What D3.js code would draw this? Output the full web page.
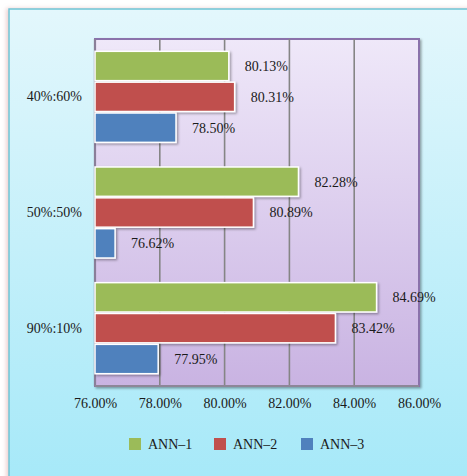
<!DOCTYPE html>
<html>
<head>
<meta charset="utf-8">
<script src="https://cdn.jsdelivr.net/npm/d3@7"></script>
<style>
  html, body { margin: 0; padding: 0; background: #ffffff; }
  svg { display: block; }
</style>
</head>
<body>
<script>
const categories = ["40%:60%", "50%:50%", "90%:10%"];
const seriesNames = ["ANN–1", "ANN–2", "ANN–3"];
const ann1 = [80.13, 82.28, 84.69];
const ann2 = [80.31, 80.89, 83.42];
const ann3 = [78.50, 76.62, 77.95];
const xTicks = [76, 78, 80, 82, 84, 86];
const colors = ["#9bbb59", "#c0504d", "#4f81bd"];

const FONT = "'Liberation Serif', 'Times New Roman', serif";
const W = 467, H = 476;
const svg = d3.select("body").append("svg").attr("width", W).attr("height", H);
const defs = svg.append("defs");

const bgGrad = defs.append("linearGradient").attr("id", "bg").attr("x1", 0).attr("y1", 0).attr("x2", 0).attr("y2", 1);
bgGrad.append("stop").attr("offset", "0%").attr("stop-color", "#e3f7fc");
bgGrad.append("stop").attr("offset", "100%").attr("stop-color", "#a3e8f8");

const plotGrad = defs.append("linearGradient").attr("id", "pg").attr("x1", 0).attr("y1", 0).attr("x2", 0).attr("y2", 1);
plotGrad.append("stop").attr("offset", "0%").attr("stop-color", "#efe8f9");
plotGrad.append("stop").attr("offset", "100%").attr("stop-color", "#c9b3e2");

const shadow = defs.append("filter").attr("id", "sh").attr("x", "-10%").attr("y", "-10%").attr("width", "130%").attr("height", "130%");
shadow.append("feDropShadow").attr("dx", 1.5).attr("dy", 1.5).attr("stdDeviation", 1.2).attr("flood-color", "#000").attr("flood-opacity", 0.35);

const frameShadow = defs.append("filter").attr("id", "fs").attr("x", "-5%").attr("y", "-5%").attr("width", "110%").attr("height", "110%");
frameShadow.append("feDropShadow").attr("dx", -2).attr("dy", 0).attr("stdDeviation", 2).attr("flood-color", "#d9a0a0").attr("flood-opacity", 0.5);

// outer frame
svg.append("rect").attr("x", 9).attr("y", 9).attr("width", W + 20).attr("height", H + 20)
  .attr("fill", "url(#bg)").attr("stroke", "#6ec5d5").attr("stroke-width", 1.5)
  .attr("filter", "url(#fs)");

const plot = { left: 95, top: 39, right: 419, bottom: 386 };

const x = d3.scaleLinear().domain([76, 86]).range([plot.left, plot.right]);
const y = d3.scaleBand().domain(categories).range([plot.top, plot.bottom]).paddingInner(0.2).paddingOuter(0.1);
const ySub = d3.scaleBand().domain(seriesNames).range([0, y.bandwidth()]).padding(0);

// plot area
svg.append("rect").attr("x", plot.left).attr("y", plot.top)
  .attr("width", plot.right - plot.left).attr("height", plot.bottom - plot.top)
  .attr("fill", "url(#pg)").attr("stroke", "#8a72ab").attr("stroke-width", 2)
  .attr("filter", "url(#sh)");

// gridlines
svg.append("g").selectAll("line").data(xTicks.slice(1, -1)).join("line")
  .attr("x1", d => x(d)).attr("x2", d => x(d))
  .attr("y1", plot.top).attr("y2", plot.bottom)
  .attr("stroke", "#858585").attr("stroke-width", 1.6);

// left and bottom border gray
svg.append("line").attr("x1", plot.left).attr("x2", plot.left).attr("y1", plot.top).attr("y2", plot.bottom)
  .attr("stroke", "#8a7f99").attr("stroke-width", 2.2);
svg.append("line").attr("x1", plot.left).attr("x2", plot.right).attr("y1", plot.bottom).attr("y2", plot.bottom)
  .attr("stroke", "#8d8698").attr("stroke-width", 2.2);

const series = [ann1, ann2, ann3];
const rows = [];
categories.forEach((c, i) => {
  series.forEach((s, j) => rows.push({ cat: c, name: seriesNames[j], v: s[i], color: colors[j] }));
});

const barsG = svg.append("g");
barsG.selectAll("rect").data(rows).join("rect")
  .attr("x", x(76))
  .attr("y", d => y(d.cat) + ySub(d.name) + 0.75)
  .attr("width", d => x(d.v) - x(76))
  .attr("height", ySub.bandwidth() - 1.5)
  .attr("fill", d => d.color)
  .attr("stroke", "#ffffff").attr("stroke-width", 1.5)
  .attr("filter", "url(#sh)");

// value labels
svg.append("g").selectAll("text").data(rows).join("text")
  .attr("x", d => x(d.v) + 16)
  .attr("y", d => y(d.cat) + ySub(d.name) + ySub.bandwidth() / 2)
  .attr("dy", "0.35em")
  .style("font-family", FONT).style("font-size", "14px").style("fill", "#1a1a1a")
  .text(d => d.v.toFixed(2) + "%");

// y axis category labels
const yAxis = d3.axisLeft(y).tickSize(0).tickPadding(13);
const yg = svg.append("g").attr("transform", `translate(${plot.left},0)`).call(yAxis);
yg.select(".domain").remove();
yg.selectAll("text").style("font-family", FONT).style("font-size", "14px").style("fill", "#1a1a1a");

// x axis labels
const xAxis = d3.axisBottom(x).tickValues(xTicks).tickSize(0).tickPadding(12).tickFormat(d => d.toFixed(2) + "%");
const xg = svg.append("g").attr("transform", `translate(0,${plot.bottom})`).call(xAxis);
xg.select(".domain").remove();
xg.selectAll("text").style("font-family", FONT).style("font-size", "14px").style("fill", "#1a1a1a");

// legend
const legendX = [129, 214, 301];
const lg = svg.append("g");
seriesNames.forEach((n, i) => {
  lg.append("rect").attr("x", legendX[i]).attr("y", 438).attr("width", 12).attr("height", 12).attr("fill", colors[i]);
  lg.append("text").attr("x", legendX[i] + 19).attr("y", 444).attr("dy", "0.35em")
    .style("font-family", FONT).style("font-size", "14px").style("fill", "#1a1a1a").text(n);
});
</script>
</body>
</html>
